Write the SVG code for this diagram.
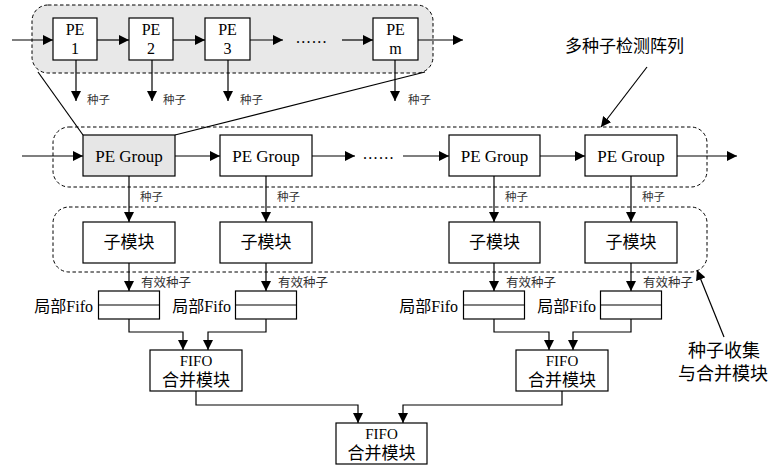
<svg xmlns="http://www.w3.org/2000/svg" width="774" height="467" viewBox="0 0 774 467">
<style>
.box{fill:#fff;stroke:#000;stroke-width:1.2}
.gbox{fill:#e6e6e6;stroke:#000;stroke-width:1.2}
.dash{fill:none;stroke:#000;stroke-width:1;stroke-dasharray:3.5,2.5}
.ln{fill:none;stroke:#000;stroke-width:1.2}
.arr{fill:none;stroke:#000;stroke-width:1.2;marker-end:url(#ah)}
.en{font-family:"Liberation Serif","Noto Sans CJK SC",serif;fill:#000}
.cn{font-family:"Liberation Serif","Noto Sans CJK SC",sans-serif;fill:#000}
.sm{font-family:"Noto Sans CJK SC",sans-serif;fill:#333;font-size:11.5px}
</style>
<defs>
<marker id="ah" viewBox="0 0 10 10" refX="10" refY="5" markerWidth="10" markerHeight="10" markerUnits="userSpaceOnUse" orient="auto"><path d="M0,0 L10,5 L0,10 z" fill="#000"/></marker>
</defs>

<!-- top PE chain group -->
<rect class="dash" x="32" y="5" width="401" height="68" rx="16" style="fill:#e8e8e8"/>

<g id="pe1"><rect class="box" x="53" y="18" width="44" height="42"/><text class="en" x="75" y="35" font-size="16" text-anchor="middle">PE</text><text class="en" x="75" y="54" font-size="16" text-anchor="middle">1</text></g>
<g id="pe2"><rect class="box" x="129" y="18" width="44" height="42"/><text class="en" x="151" y="35" font-size="16" text-anchor="middle">PE</text><text class="en" x="151" y="54" font-size="16" text-anchor="middle">2</text></g>
<g id="pe3"><rect class="box" x="205" y="18" width="45" height="42"/><text class="en" x="227.5" y="35" font-size="16" text-anchor="middle">PE</text><text class="en" x="227.5" y="54" font-size="16" text-anchor="middle">3</text></g>
<g id="pem"><rect class="box" x="373" y="18" width="45" height="42"/><text class="en" x="395.5" y="35" font-size="16" text-anchor="middle">PE</text><text class="en" x="395.5" y="54" font-size="16" text-anchor="middle">m</text></g>
<text class="en" x="296" y="43" font-size="16" letter-spacing="1.3">......</text>

<!-- middle group -->
<rect class="dash" x="53" y="127" width="654" height="60" rx="16"/>
<rect class="dash" x="53" y="207" width="654" height="65" rx="16"/>

<g id="pg1"><rect class="gbox" x="83" y="135" width="92" height="41"/><text class="en" x="129" y="162" font-size="17" text-anchor="middle">PE Group</text></g>
<g id="pg2"><rect class="box" x="220" y="135" width="92" height="41"/><text class="en" x="266" y="162" font-size="17" text-anchor="middle">PE Group</text></g>
<g id="pg3"><rect class="box" x="449" y="135" width="91" height="41"/><text class="en" x="494.5" y="162" font-size="17" text-anchor="middle">PE Group</text></g>
<g id="pg4"><rect class="box" x="585" y="135" width="92" height="41"/><text class="en" x="631" y="162" font-size="17" text-anchor="middle">PE Group</text></g>
<text class="en" x="363" y="159" font-size="16" letter-spacing="1.3">......</text>

<g id="sm1"><rect class="box" x="83" y="222" width="92" height="41"/><text class="cn" x="129" y="248" font-size="17" text-anchor="middle">子模块</text></g>
<g id="sm2"><rect class="box" x="220" y="222" width="92" height="41"/><text class="cn" x="266" y="248" font-size="17" text-anchor="middle">子模块</text></g>
<g id="sm3"><rect class="box" x="449" y="222" width="91" height="41"/><text class="cn" x="494.5" y="248" font-size="17" text-anchor="middle">子模块</text></g>
<g id="sm4"><rect class="box" x="585" y="222" width="92" height="41"/><text class="cn" x="631" y="248" font-size="17" text-anchor="middle">子模块</text></g>

<!-- fifos -->
<g id="fifo1"><rect class="box" x="98.5" y="291" width="61" height="28"/><line class="ln" x1="98.5" y1="305" x2="159.5" y2="305"/><text class="cn" x="93" y="312" font-size="16" text-anchor="end">局部Fifo</text></g>
<g id="fifo2"><rect class="box" x="235.5" y="291" width="61" height="28"/><line class="ln" x1="235.5" y1="305" x2="296.5" y2="305"/><text class="cn" x="231" y="312" font-size="16" text-anchor="end">局部Fifo</text></g>
<g id="fifo3"><rect class="box" x="463.5" y="291" width="61" height="28"/><line class="ln" x1="463.5" y1="305" x2="524.5" y2="305"/><text class="cn" x="458" y="312" font-size="16" text-anchor="end">局部Fifo</text></g>
<g id="fifo4"><rect class="box" x="600.5" y="291" width="61" height="28"/><line class="ln" x1="600.5" y1="305" x2="661.5" y2="305"/><text class="cn" x="596" y="312" font-size="16" text-anchor="end">局部Fifo</text></g>

<g id="merge1"><rect class="box" x="150" y="350" width="92" height="41"/><text class="en" x="196" y="366" font-size="15" text-anchor="middle">FIFO</text><text class="cn" x="196" y="386" font-size="17" text-anchor="middle">合并模块</text></g>
<g id="merge2"><rect class="box" x="516" y="350" width="92" height="41"/><text class="en" x="562" y="366" font-size="15" text-anchor="middle">FIFO</text><text class="cn" x="562" y="386" font-size="17" text-anchor="middle">合并模块</text></g>
<g id="merge3"><rect class="box" x="336" y="423" width="91" height="41"/><text class="en" x="381.5" y="439" font-size="15" text-anchor="middle">FIFO</text><text class="cn" x="381.5" y="459" font-size="17" text-anchor="middle">合并模块</text></g>

<g id="notes">
<text class="cn" x="565" y="52" font-size="17">多种子检测阵列</text>
<text class="cn" x="688" y="357" font-size="18">种子收集</text>
<text class="cn" x="678" y="380" font-size="18">与合并模块</text>
</g>

<g id="connectors">
<line class="arr" x1="12" y1="40" x2="53" y2="40"/>
<line class="arr" x1="97" y1="40" x2="129" y2="40"/>
<line class="arr" x1="173" y1="40" x2="205" y2="40"/>
<line class="arr" x1="250" y1="40" x2="283" y2="40"/>
<line class="arr" x1="342" y1="40" x2="373" y2="40"/>
<line class="arr" x1="418" y1="40" x2="463" y2="40"/>
<line class="arr" x1="76" y1="60" x2="76" y2="101"/>
<line class="arr" x1="152" y1="60" x2="152" y2="101"/>
<line class="arr" x1="228" y1="60" x2="228" y2="101"/>
<line class="arr" x1="395" y1="60" x2="395" y2="101"/>
<text class="sm" x="87" y="104">种子</text>
<text class="sm" x="163" y="104">种子</text>
<text class="sm" x="240" y="104">种子</text>
<text class="sm" x="408" y="104">种子</text>
<line class="ln" x1="38" y1="72" x2="83" y2="135"/>
<line class="ln" x1="175" y1="135" x2="425" y2="72"/>

<line class="arr" x1="22" y1="156" x2="83" y2="156"/>
<line class="arr" x1="175" y1="156" x2="220" y2="156"/>
<line class="arr" x1="312" y1="156" x2="355" y2="156"/>
<line class="arr" x1="403" y1="156" x2="449" y2="156"/>
<line class="arr" x1="540" y1="156" x2="585" y2="156"/>
<line class="arr" x1="677" y1="156" x2="737" y2="156"/>

<line class="arr" x1="129" y1="176" x2="129" y2="222"/>
<line class="arr" x1="266" y1="176" x2="266" y2="222"/>
<line class="arr" x1="494" y1="176" x2="494" y2="222"/>
<line class="arr" x1="631" y1="176" x2="631" y2="222"/>
<text class="sm" x="140" y="201">种子</text>
<text class="sm" x="277" y="201">种子</text>
<text class="sm" x="505" y="201">种子</text>
<text class="sm" x="642" y="201">种子</text>

<line class="arr" x1="129" y1="263" x2="129" y2="291"/>
<line class="arr" x1="266" y1="263" x2="266" y2="291"/>
<line class="arr" x1="494" y1="263" x2="494" y2="291"/>
<line class="arr" x1="631" y1="263" x2="631" y2="291"/>
<text class="sm" x="141" y="287" style="font-size:12.5px">有效种子</text>
<text class="sm" x="278" y="287" style="font-size:12.5px">有效种子</text>
<text class="sm" x="506" y="287" style="font-size:12.5px">有效种子</text>
<text class="sm" x="643" y="287" style="font-size:12.5px">有效种子</text>

<path class="arr" d="M129,319 V332 H183 V350"/>
<path class="arr" d="M266,319 V332 H208 V350"/>
<path class="arr" d="M494,319 V332 H549 V350"/>
<path class="arr" d="M631,319 V332 H573 V350"/>
<path class="arr" d="M196,391 V405 H358 V423"/>
<path class="arr" d="M562,391 V405 H403 V423"/>

<line class="arr" x1="647" y1="67" x2="601" y2="127"/>
<line class="arr" x1="724" y1="337" x2="697" y2="270"/>
</g>
</svg>
